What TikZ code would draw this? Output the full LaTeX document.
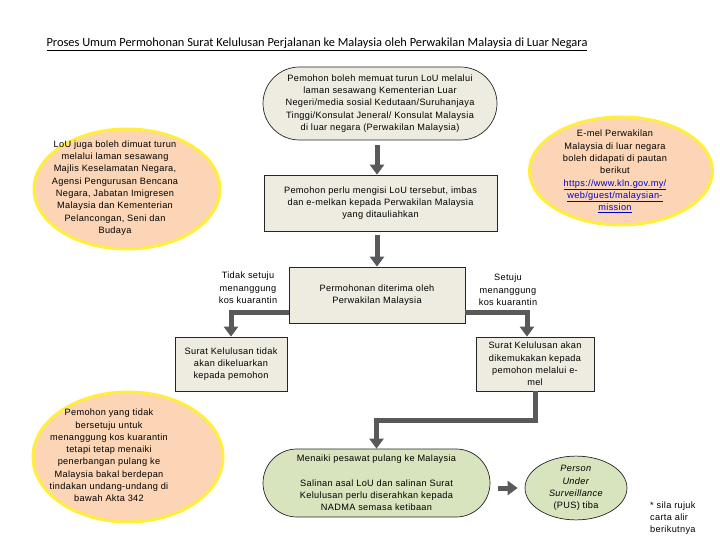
\documentclass[tikz,border=0pt]{standalone}
\usepackage{fontspec}
\setmainfont{Liberation Sans}[LetterSpace=3.5]
\newfontfamily\titlefont{Carlito}
\usetikzlibrary{arrows.meta,shapes.geometric,shapes.misc,calc}
\definecolor{tanfill}{RGB}{238,236,225}
\definecolor{greenfill}{RGB}{215,228,189}
\definecolor{peach}{RGB}{251,213,181}
\definecolor{glow}{RGB}{255,238,60}
\definecolor{arrgray}{RGB}{89,89,89}
\definecolor{linkblue}{RGB}{0,0,205}
\newcommand\fs{\fontsize{9.2}{12.3}\selectfont}
\tikzset{
  box/.style={draw=black!85, line width=0.7pt, fill=tanfill, inner sep=0pt, align=center, font=\fs},
  stad/.style={box, rounded rectangle},
  txt/.style={font=\fs, align=center, inner sep=0pt},
  pe/.style={ellipse, draw=glow, line width=3pt, fill=peach, inner sep=0pt},
  arr/.style={draw=arrgray, line width=5pt, -{Triangle[width=14pt,length=10pt]}},
}
\begin{document}
\begin{tikzpicture}[x=1pt,y=-1pt]
\useasboundingbox (0,0) rectangle (720,540);
% title
\node[inner sep=0pt] (title) at (317,44) {\titlefont\fontsize{12.4}{14}\selectfont\underline{Proses Umum Permohonan Surat Kelulusan Perjalanan ke Malaysia oleh Perwakilan Malaysia di Luar Negara}};
% peach ellipses
\node[pe, minimum width=186pt, minimum height=120pt] (e1) at (127,189) {};
\node[txt] (e1t) at (115,188) {LoU juga boleh dimuat turun\\melalui laman sesawang\\Majlis Keselamatan Negara,\\Agensi Pengurusan Bencana\\Negara, Jabatan Imigresen\\Malaysia dan Kementerian\\Pelancongan, Seni dan\\Budaya};
\node[pe, minimum width=183pt, minimum height=108pt] (e2) at (621,171) {};
\node[txt] (e2t) at (615,171.5) {E-mel Perwakilan\\Malaysia di luar negara\\boleh didapati di pautan\\berikut\\\textcolor{linkblue}{\underline{https://www.kln.gov.my/}}\\\textcolor{linkblue}{\underline{web/guest/malaysian-}}\\\textcolor{linkblue}{\underline{mission}}};
\node[pe, minimum width=190pt, minimum height=130pt] (e3) at (128,457) {};
\node[txt] (e3t) at (109,455.5) {Pemohon yang tidak\\bersetuju untuk\\menanggung kos kuarantin\\tetapi tetap menaiki\\penerbangan pulang ke\\Malaysia bakal berdepan\\tindakan undang-undang di\\bawah Akta 342};
% flow boxes
\node[stad, minimum width=234pt, minimum height=73pt] (top) at (380,103.5) {Pemohon boleh memuat turun LoU melalui\\laman sesawang Kementerian Luar\\Negeri/media sosial Kedutaan/Suruhanjaya\\Tinggi/Konsulat Jeneral/ Konsulat Malaysia\\di luar negara (Perwakilan Malaysia)};
\node[box, minimum width=233pt, minimum height=56pt] (b2) at (380.5,203) {Pemohon perlu mengisi LoU tersebut, imbas\\dan e-melkan kepada Perwakilan Malaysia\\yang ditauliahkan};
\node[box, minimum width=176pt, minimum height=56pt] (b3) at (377,295) {Permohonan diterima oleh\\Perwakilan Malaysia};
\node[box, minimum width=112pt, minimum height=54pt] (b4) at (231,364) {Surat Kelulusan tidak\\akan dikeluarkan\\kepada pemohon};
\node[box, minimum width=118pt, minimum height=54pt] (b5) at (535,364) {Surat Kelulusan akan\\dikemukakan kepada\\pemohon melalui e-\\mel};
\node[stad, fill=greenfill, minimum width=227pt, minimum height=68pt] (b6) at (376.5,483) {Menaiki pesawat pulang ke Malaysia\\[12pt]Salinan asal LoU dan salinan Surat\\Kelulusan perlu diserahkan kepada\\NADMA semasa ketibaan};
\node[box, ellipse, fill=greenfill, minimum width=102pt, minimum height=55pt] (pus) at (576,488) {\textit{Person}\\\textit{Under}\\\textit{Surveillance}\\(PUS) tiba};
% labels
\node[txt] (lno) at (248,288) {Tidak setuju\\menanggung\\kos kuarantin};
\node[txt] (lyes) at (508,290) {Setuju\\menanggung\\kos kuarantin};
\node[txt, align=left, anchor=west] (note) at (650,518) {* sila rujuk\\carta alir\\berikutnya};
% connectors
\draw[arr, shorten <=5pt] (top.south -| b3.north) -- (b2.north -| b3.north);
\draw[arr, shorten <=4pt] (b2.south -| b3.north) -- (b3.north);
\draw[arr] ([yshift=-17pt]b3.west) -| (b4.north);
\draw[arr] ([yshift=-17pt]b3.east) -| ([xshift=-8pt]b5.north);
\draw[arr] (b5.south) -- ++(0,29) -| (b6.north);
\draw[arr] ($(b6.east)+(8,5)$) -- ($(pus.west)+(-7,0)$);
\end{tikzpicture}
\end{document}
